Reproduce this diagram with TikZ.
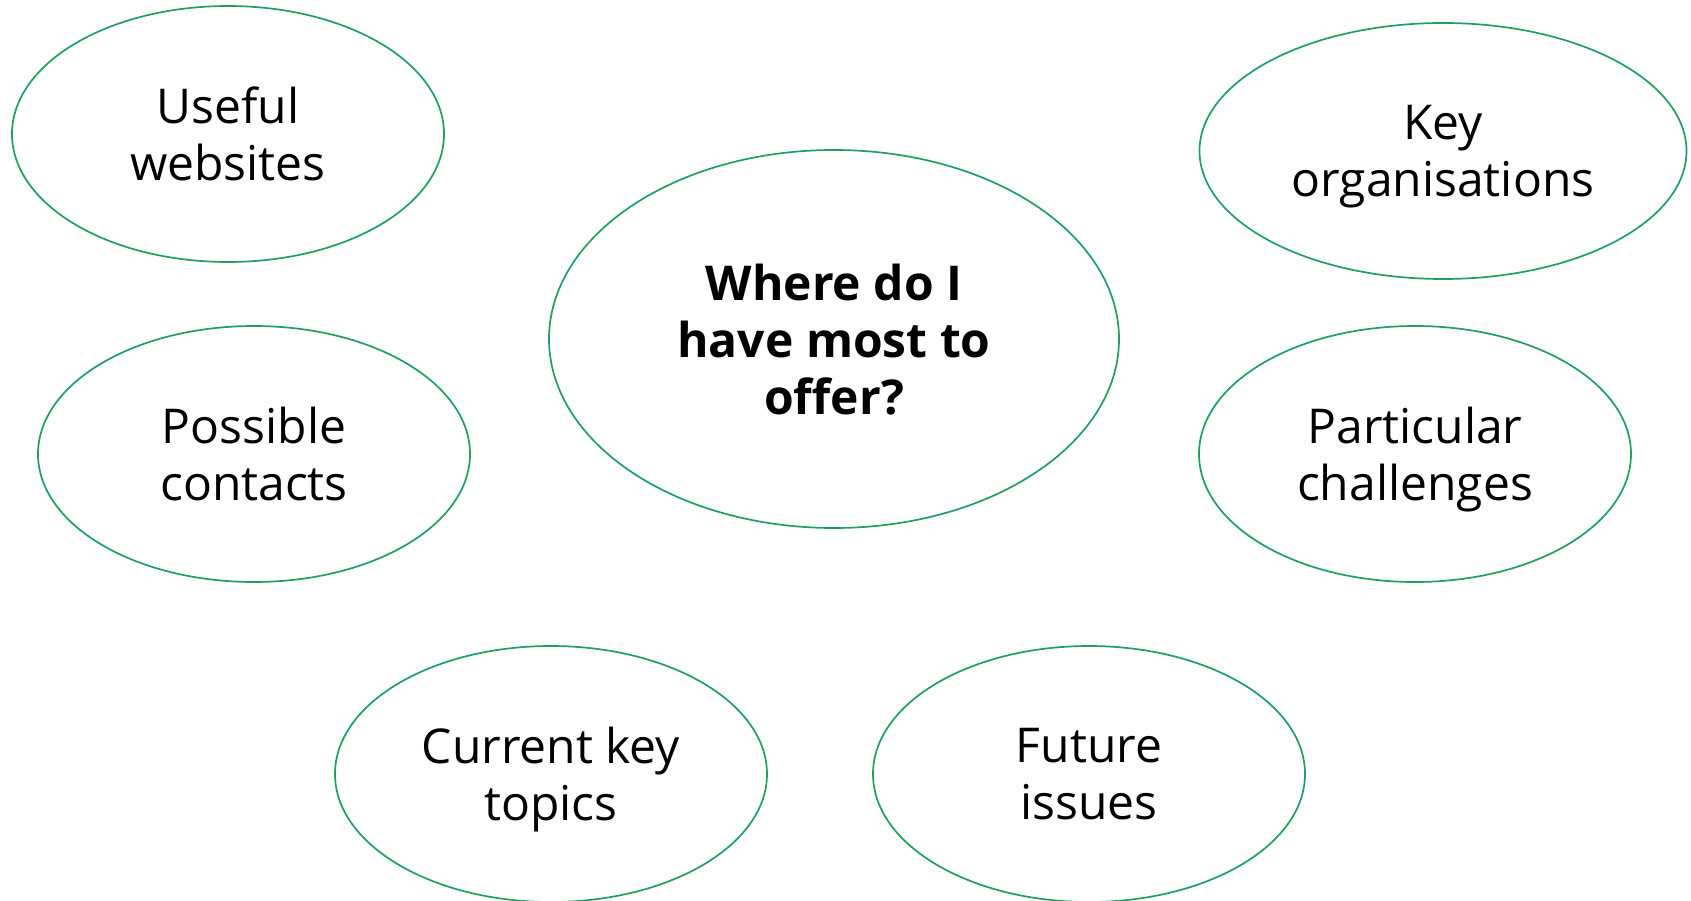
\documentclass[tikz,border=0pt]{standalone}
\usepackage{fontspec}
\setmainfont{Open Sans}
\usetikzlibrary{shapes.geometric}
\definecolor{ringgreen}{RGB}{32,160,96}
\tikzset{
  bubble/.style={ellipse, draw=ringgreen, line width=1.7pt, inner sep=0pt,
    align=center, text depth=0pt, font=\fontsize{48}{57}\selectfont, text=black},
  small/.style={bubble, minimum width=432pt, minimum height=256pt},
}
\begin{document}
\begin{tikzpicture}[x=1pt,y=-1pt]
\useasboundingbox (0,0) rectangle (1691,901);
\clip (0,0) rectangle (1691,901);
\node[small] (web) at (228,134) {Useful\\websites};
\node[bubble, minimum width=487pt, minimum height=256pt] (org) at (1443,151) {Key\\organisations};
\node[bubble, minimum width=570pt, minimum height=378pt, font=\fontsize{48}{57}\selectfont\bfseries] (main) at (834,339) {Where do I\\have most to\\offer?};
\node[small] (contacts) at (254,454) {Possible\\contacts};
\node[small] (chall) at (1415,454) {Particular\\challenges};
\node[small] (topics) at (551,774) {Current key\\topics};
\node[small] (future) at (1089,774) {Future\\issues};
\end{tikzpicture}
\end{document}
